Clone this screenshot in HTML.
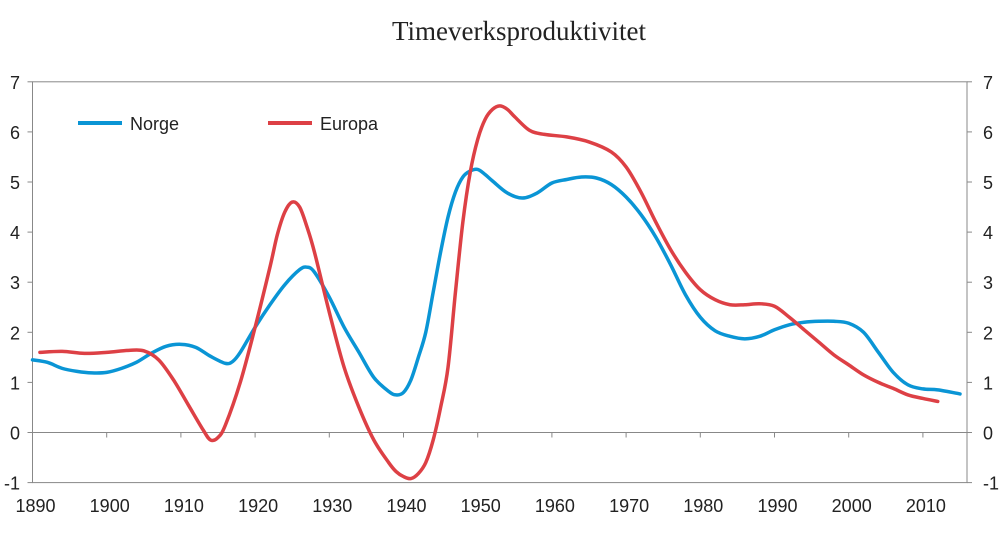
<!DOCTYPE html>
<html><head><meta charset="utf-8"><style>
body{margin:0;background:#fff}
svg text{font-family:"Liberation Sans",sans-serif;fill:#222}
</style></head><body>
<svg id="c" width="1000" height="532">
<text x="519" y="40" text-anchor="middle" style="font-family:'Liberation Serif',serif;font-size:27px">Timeverksproduktivitet</text>
<g id="ax"></g><g id="lines"></g>
<g>
<line x1="78" y1="123" x2="122" y2="123" stroke="#0a95d5" stroke-width="4"/>
<text x="130" y="130" font-size="18">Norge</text>
<line x1="268" y1="123" x2="312" y2="123" stroke="#dd4045" stroke-width="4"/>
<text x="320" y="130" font-size="18">Europa</text>
</g>
</svg>
<script>
const yTicks=[-1,0,1,2,3,4,5,6,7];
const xTicks=[1890,1900,1910,1920,1930,1940,1950,1960,1970,1980,1990,2000,2010];
const norgeYears=[1890,1892,1894,1896,1898,1900,1902,1904,1906,1908,1910,1912,1914,1916,1917,1918,1920,1922,1924,1926,1927,1928,1930,1932,1934,1936,1938,1939,1940,1941,1942,1943,1944,1945,1946,1947,1948,1949,1950,1951,1952,1954,1956,1958,1960,1962,1964,1966,1968,1970,1972,1974,1976,1978,1980,1982,1984,1986,1988,1990,1992,1994,1996,1998,2000,2002,2004,2006,2008,2010,2012,2015];
const norgeValues=[1.45,1.4,1.28,1.22,1.19,1.2,1.28,1.4,1.58,1.72,1.76,1.7,1.52,1.38,1.42,1.6,2.1,2.55,2.95,3.25,3.3,3.2,2.7,2.1,1.6,1.1,0.82,0.75,0.8,1.05,1.5,2.0,2.8,3.6,4.3,4.8,5.1,5.22,5.25,5.15,5.02,4.78,4.68,4.78,4.98,5.05,5.1,5.08,4.95,4.7,4.35,3.9,3.35,2.75,2.3,2.03,1.92,1.87,1.92,2.05,2.15,2.2,2.22,2.22,2.18,2.0,1.6,1.2,0.95,0.87,0.85,0.77];
const europaYears=[1891,1894,1897,1900,1903,1905,1907,1909,1911,1913,1914,1915,1916,1918,1920,1922,1923,1924,1925,1926,1927,1928,1930,1932,1934,1936,1938,1939,1940,1941,1942,1943,1944,1945,1946,1947,1948,1949,1950,1951,1952,1953,1954,1955,1957,1959,1962,1965,1968,1970,1972,1974,1976,1978,1980,1982,1984,1986,1988,1990,1992,1994,1996,1998,2000,2002,2004,2006,2008,2010,2012];
const europaValues=[1.6,1.62,1.58,1.6,1.64,1.63,1.45,1.05,0.55,0.05,-0.15,-0.1,0.15,1.0,2.1,3.3,3.95,4.4,4.6,4.5,4.1,3.6,2.4,1.3,0.5,-0.15,-0.6,-0.78,-0.88,-0.92,-0.82,-0.6,-0.15,0.5,1.3,2.8,4.2,5.2,5.85,6.25,6.45,6.52,6.45,6.3,6.03,5.95,5.9,5.8,5.6,5.3,4.8,4.2,3.65,3.2,2.85,2.65,2.55,2.55,2.57,2.52,2.3,2.05,1.8,1.55,1.35,1.15,1.0,0.88,0.75,0.68,0.62];
const X0=32.5,X1=967,Y0=432.5,PU=50.1;
const xs=y=>X0+(y-1890)*7.42;
const ys=v=>Y0-v*PU;
const NS='http://www.w3.org/2000/svg';
function mk(t,a,p){const e=document.createElementNS(NS,t);for(const k in a)e.setAttribute(k,a[k]);p.appendChild(e);return e;}
const ax=document.getElementById('ax');
const fr=mk('rect',{x:X0,y:ys(7),width:X1-X0,height:ys(-1)-ys(7),fill:'none',stroke:'#888','stroke-width':1},ax);


const zl=mk('line',{x1:X0,x2:X1,y1:ys(0),y2:ys(0),stroke:'#888'},ax);


yTicks.forEach(v=>{
 const l=mk('line',{x1:X0-5,x2:X0,y1:ys(v),y2:ys(v),stroke:'#888'},ax);
 
 
 const r=mk('line',{x1:X1,x2:X1+5,y1:ys(v),y2:ys(v),stroke:'#888'},ax);
 
 
 const t=mk('text',{x:20,y:ys(v)+7,'text-anchor':'end','font-size':18},ax);t.textContent=v;
 
 
 const t2=mk('text',{x:983,y:ys(v)+7,'text-anchor':'start','font-size':18},ax);t2.textContent=v;
 
 
});
xTicks.forEach(y=>{
 const l=mk('line',{x1:xs(y),x2:xs(y),y1:ys(0),y2:ys(0)+5,stroke:'#888'},ax);
 
 
 const t=mk('text',{x:xs(y)+3,y:512,'text-anchor':'middle','font-size':18},ax);t.textContent=y;
 
 
});
function path(yr,vals){
 const p=yr.map((y,i)=>[xs(y),ys(vals[i])]);
 let d='M'+p[0][0]+','+p[0][1];
 for(let i=0;i<p.length-1;i++){
  const a=p[Math.max(0,i-1)],b=p[i],c=p[i+1],e=p[Math.min(p.length-1,i+2)];
  d+=' C'+(b[0]+(c[0]-a[0])/6)+','+(b[1]+(c[1]-a[1])/6)+' '+(c[0]-(e[0]-b[0])/6)+','+(c[1]-(e[1]-b[1])/6)+' '+c[0]+','+c[1];
 }
 return d;
}
const lg=document.getElementById('lines');
const pn=mk('path',{d:path(norgeYears,norgeValues),fill:'none',stroke:'#0a95d5','stroke-width':3.5,'stroke-linecap':'round'},lg);


const pe=mk('path',{d:path(europaYears,europaValues),fill:'none',stroke:'#dd4045','stroke-width':3.5,'stroke-linecap':'round'},lg);


</script>
</body></html>
